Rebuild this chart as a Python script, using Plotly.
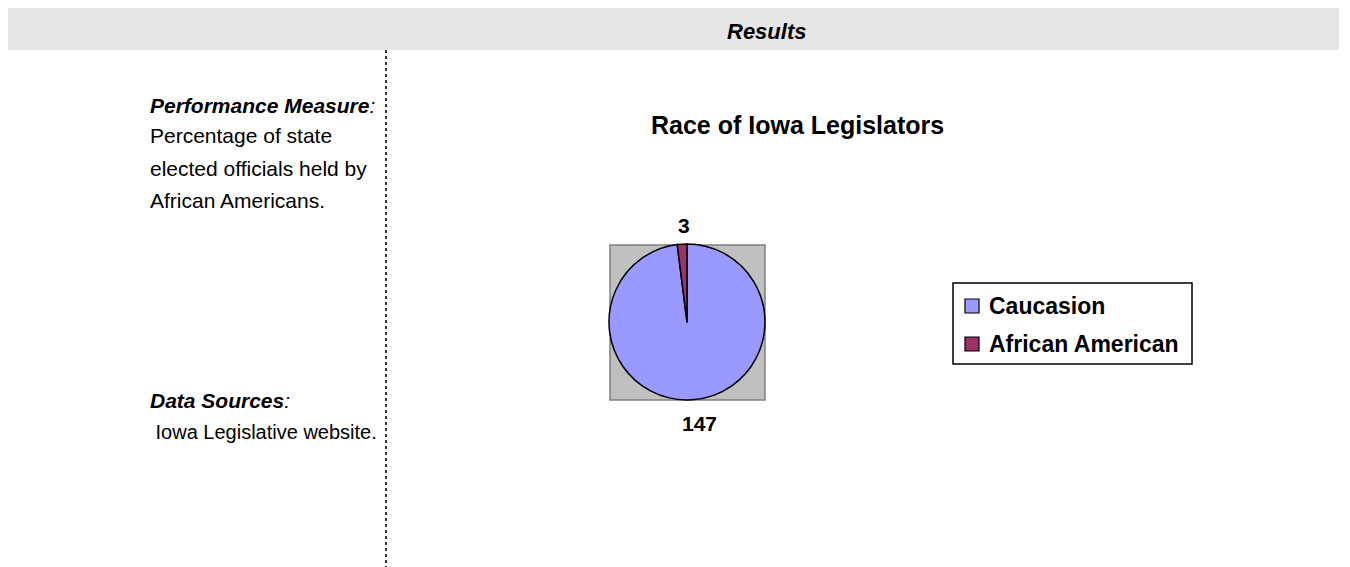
import plotly.graph_objects as go

# data
labels = ["Caucasion", "African American"]
values = [147, 3]
colors = ["#9999FF", "#993366"]

measure_lines = ["Percentage of state", "elected officials held by", "African Americans."]
source_text = " Iowa Legislative website."

# the page body has an 8px margin, so the figure is shrunk by that much
W, H = 1350, 567
OFF = 8
FW, FH = W - OFF, H - OFF
FONT = "Liberation Sans, Arial, sans-serif"


def px(x):
    return (x - OFF) / FW


def py(y):
    return 1 - (y - OFF) / FH


fig = go.Figure()

fig.add_trace(go.Pie(
    labels=labels,
    values=values,
    marker=dict(colors=colors, line=dict(color="black", width=1.5)),
    sort=False,
    direction="clockwise",
    rotation=0,
    textinfo="none",
    hoverinfo="label+value",
    showlegend=False,
    domain=dict(x=[px(609), px(765)], y=[py(400), py(244)]),
))

shapes = [
    # header band
    dict(type="rect", xref="paper", yref="paper", x0=px(7), x1=px(1339), y0=py(50), y1=py(7),
         fillcolor="#E6E6E6", line=dict(width=0), layer="below"),
    # dotted divider
    dict(type="line", xref="paper", yref="paper", x0=px(386), x1=px(386), y0=py(50), y1=0,
         line=dict(color="#333333", width=2, dash="dot")),
    # plot area behind pie
    dict(type="rect", xref="paper", yref="paper", x0=px(610), x1=px(765), y0=py(400), y1=py(245),
         fillcolor="#C0C0C0", line=dict(color="#808080", width=1.5), layer="below"),
    # legend box
    dict(type="rect", xref="paper", yref="paper", x0=px(953), x1=px(1192), y0=py(364), y1=py(283),
         fillcolor="white", line=dict(color="black", width=1.5)),
]

annotations = [
    dict(text="<b><i>Results</i></b>", x=px(766), y=py(32), font=dict(size=22)),
    dict(text="<b>Race of Iowa Legislators</b>", x=px(797), y=py(125), font=dict(size=25)),
    dict(text="<b><i>Performance Measure</i></b><i>:</i>", x=px(148), y=py(105), xanchor="left",
         font=dict(size=21)),
    dict(text="<b><i>Data Sources</i></b><i>:</i>", x=px(148), y=py(400), xanchor="left",
         font=dict(size=21)),
    dict(text=source_text, x=px(148), y=py(432), xanchor="left", font=dict(size=20)),
    # data labels
    dict(text="<b>%d</b>" % values[1], x=px(684), y=py(225), font=dict(size=21)),
    dict(text="<b>%d</b>" % values[0], x=px(699), y=py(423), font=dict(size=21)),
]
for i, line in enumerate(measure_lines):
    annotations.append(dict(text=line, x=px(148), y=py(136 + i * 32), xanchor="left",
                            font=dict(size=21)))

# manual legend (squares + labels)
for i, (lab, col) in enumerate(zip(labels, colors)):
    cy = 306 + i * 38
    shapes.append(dict(type="rect", xref="paper", yref="paper",
                       x0=px(965), x1=px(979), y0=py(cy + 7), y1=py(cy - 7),
                       fillcolor=col, line=dict(color="black", width=1.2)))
    annotations.append(dict(text="<b>%s</b>" % lab, x=px(987), y=py(cy), xanchor="left",
                            font=dict(size=23)))

for a in annotations:
    a.setdefault("xref", "paper")
    a.setdefault("yref", "paper")
    a.setdefault("showarrow", False)
    a.setdefault("yanchor", "middle")
    a["font"].setdefault("color", "black")
    a["font"].setdefault("family", FONT)

fig.update_layout(
    width=FW, height=FH,
    margin=dict(l=0, r=0, t=0, b=0),
    paper_bgcolor="white",
    plot_bgcolor="white",
    xaxis=dict(visible=False),
    yaxis=dict(visible=False),
    shapes=shapes,
    annotations=annotations,
    font=dict(family=FONT, color="black"),
)

fig.write_html("out.html")
